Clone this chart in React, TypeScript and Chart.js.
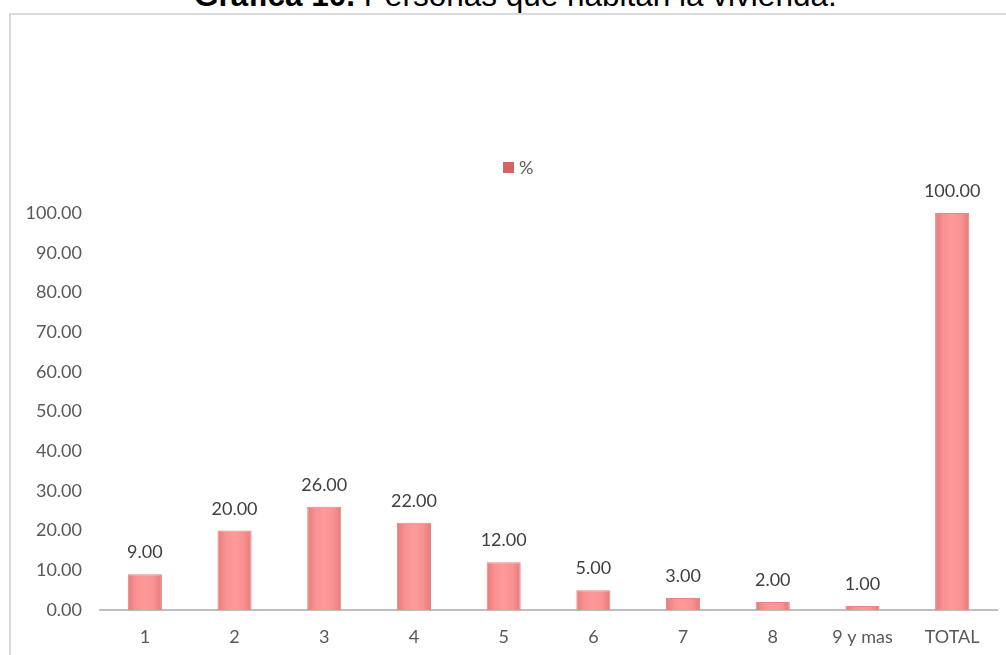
import React, { useEffect, useRef } from "react";
import { Chart, registerables } from "chart.js";

Chart.register(...registerables);

const categories: string[] = ["1", "2", "3", "4", "5", "6", "7", "8", "9 y mas", "TOTAL"];
const percentValues: number[] = [9, 20, 26, 22, 12, 5, 3, 2, 1, 100];
const seriesLabel = "%";
const yMin = 0;
const yMax = 100;
const yStep = 10;
const titleBold = "Gráfica 10.";
const titleRest = " Personas que habitan la vivienda.";

const FONT = "Lato, 'Open Sans', sans-serif";

const valueLabels = {
  id: "valueLabels",
  afterDatasetsDraw(chart: any) {
    const ctx = chart.ctx;
    const meta = chart.getDatasetMeta(0);
    const data = chart.data.datasets[0].data as number[];
    ctx.save();
    ctx.font = `18px ${FONT}`;
    ctx.fillStyle = "#404040";
    ctx.textAlign = "center";
    ctx.textBaseline = "alphabetic";
    meta.data.forEach((el: any, i: number) => {
      ctx.fillText(Number(data[i]).toFixed(2), el.x, el.y - 16);
    });
    ctx.restore();
  },
};

const customLegend = {
  id: "customLegend",
  afterDraw(chart: any) {
    const ctx = chart.ctx;
    const label = chart.data.datasets[0].label;
    ctx.save();
    ctx.fillStyle = "#D86262";
    ctx.fillRect(503, 162, 11, 11);
    ctx.font = `18px ${FONT}`;
    ctx.fillStyle = "#595959";
    ctx.textAlign = "left";
    ctx.textBaseline = "middle";
    ctx.fillText(label, 519, 168);
    ctx.restore();
  },
};

function barGradient(c: any) {
  const chart = c.chart;
  const xs = chart.scales?.x;
  if (!xs || c.dataIndex === undefined) return "#F79494";
  const cx = xs.getPixelForValue(c.dataIndex);
  const w = (xs.width / categories.length) * 0.38;
  if (!Number.isFinite(cx) || !Number.isFinite(w) || w <= 0) return "#F79494";
  const g = chart.ctx.createLinearGradient(cx - w / 2, 0, cx + w / 2, 0);
  g.addColorStop(0, "#E67C7C");
  g.addColorStop(0.25, "#F99292");
  g.addColorStop(0.5, "#FF9A9A");
  g.addColorStop(0.75, "#F99292");
  g.addColorStop(1, "#E67C7C");
  return g;
}

export default function App() {
  const canvasRef = useRef<HTMLCanvasElement | null>(null);

  useEffect(() => {
    if (!canvasRef.current) return;
    const chart = new Chart(canvasRef.current, {
      type: "bar",
      data: {
        labels: categories,
        datasets: [
          {
            label: seriesLabel,
            data: percentValues,
            backgroundColor: barGradient as any,
            borderColor: "#E88484",
            borderWidth: 1,
            barPercentage: 0.475,
            categoryPercentage: 0.8,
          },
        ],
      },
      options: {
        animation: false,
        responsive: false,
        maintainAspectRatio: false,
        layout: { padding: { left: 0, right: 9, top: 213, bottom: 0 } },
        plugins: {
          legend: { display: false },
          tooltip: { enabled: false },
          title: { display: false },
        },
        scales: {
          x: {
            grid: { display: false, drawTicks: false },
            border: { display: true, color: "#BFBFBF", width: 2 },
            ticks: {
              color: "#595959",
              font: { family: FONT, size: 18 },
              padding: 16,
              maxRotation: 0,
              autoSkip: false,
            },
            afterFit: (s: any) => {
              s.height = 45;
            },
          },
          y: {
            min: yMin,
            max: yMax,
            grid: { display: false, drawTicks: false },
            border: { display: false },
            ticks: {
              stepSize: yStep,
              color: "#595959",
              font: { family: FONT, size: 18 },
              padding: 18,
              callback: (v: any) => Number(v).toFixed(2),
            },
            afterFit: (s: any) => {
              s.width = 100;
            },
          },
        },
      },
      plugins: [valueLabels, customLegend],
    });
    return () => chart.destroy();
  }, []);

  return (
    <div
      style={{
        position: "fixed",
        left: 0,
        top: 0,
        width: 1006,
        height: 655,
        overflow: "hidden",
        background: "#FFFFFF",
      }}
    >
      <div
        style={{
          position: "absolute",
          left: 194,
          top: -20,
          whiteSpace: "nowrap",
          fontFamily: "'Liberation Sans', Arial, sans-serif",
          fontSize: 31.5,
          lineHeight: "30px",
          color: "#000000",
        }}
      >
        <b>{titleBold}</b>
        <span>{titleRest}</span>
      </div>
      <div
        style={{
          position: "absolute",
          left: 9,
          top: 13,
          width: 2000,
          height: 2000,
          borderLeft: "2px solid #D9D9D9",
          borderTop: "2px solid #D9D9D9",
        }}
      />
      <canvas
        ref={canvasRef}
        width={1006}
        height={655}
        style={{ position: "absolute", left: 0, top: 0, width: 1006, height: 655 }}
      />
    </div>
  );
}
